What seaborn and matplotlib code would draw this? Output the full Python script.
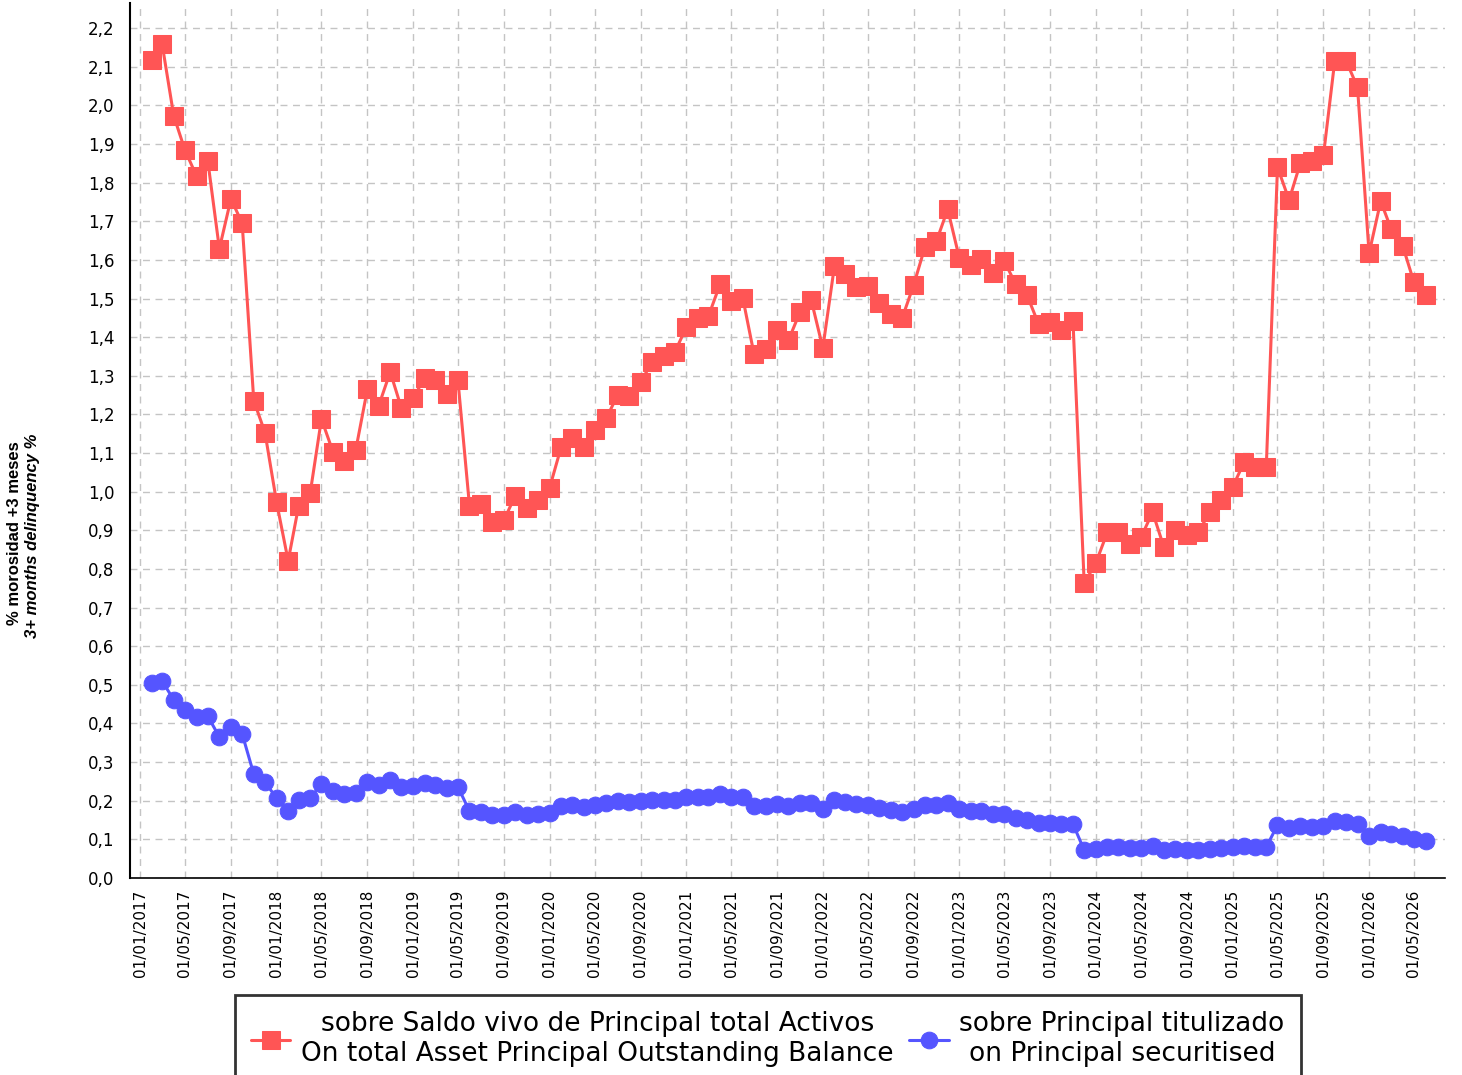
import numpy as np
import pandas as pd
import seaborn as sns
import matplotlib as mpl
mpl.use('Agg')
import matplotlib.pyplot as plt
import matplotlib.dates as mdates
from matplotlib.ticker import FuncFormatter, MultipleLocator

# datos mensuales, de 02/2017 a 06/2026
fechas = pd.date_range('2017-02-01', '2026-06-01', freq='MS')

# % morosidad sobre saldo vivo de principal total activos
saldo_vivo = [
    2.117, 2.158, 1.973, 1.884, 1.817, 1.857, 1.629, 1.758, 1.695, 1.236,
    1.153, 0.973, 0.821, 0.963, 0.997, 1.188, 1.103, 1.080, 1.109, 1.266,
    1.222, 1.310, 1.216, 1.242, 1.294, 1.289, 1.253, 1.289, 0.963, 0.968,
    0.921, 0.926, 0.989, 0.958, 0.978, 1.009, 1.115, 1.139, 1.115, 1.159,
    1.190, 1.250, 1.247, 1.284, 1.335, 1.351, 1.361, 1.426, 1.449, 1.454,
    1.537, 1.493, 1.501, 1.356, 1.369, 1.418, 1.392, 1.465, 1.496, 1.372,
    1.584, 1.563, 1.530, 1.532, 1.488, 1.460, 1.449, 1.535, 1.633, 1.649,
    1.731, 1.605, 1.586, 1.602, 1.566, 1.597, 1.537, 1.509, 1.434, 1.439,
    1.418, 1.442, 0.763, 0.815, 0.895, 0.895, 0.864, 0.882, 0.947, 0.857,
    0.901, 0.888, 0.895, 0.947, 0.978, 1.012, 1.077, 1.064, 1.064, 1.840,
    1.755, 1.850, 1.856, 1.871, 2.114, 2.114, 2.047, 1.617, 1.752, 1.680,
    1.636, 1.542, 1.509,
]

# % morosidad sobre principal titulizado
titulizado = [
    0.505, 0.510, 0.461, 0.435, 0.417, 0.419, 0.365, 0.391, 0.373, 0.269,
    0.248, 0.207, 0.173, 0.202, 0.207, 0.243, 0.225, 0.217, 0.220, 0.248,
    0.241, 0.254, 0.236, 0.238, 0.246, 0.241, 0.233, 0.236, 0.173, 0.171,
    0.163, 0.163, 0.171, 0.163, 0.166, 0.168, 0.186, 0.189, 0.184, 0.189,
    0.194, 0.199, 0.197, 0.199, 0.202, 0.202, 0.202, 0.210, 0.210, 0.210,
    0.217, 0.210, 0.210, 0.186, 0.186, 0.192, 0.186, 0.194, 0.194, 0.179,
    0.202, 0.197, 0.192, 0.189, 0.181, 0.176, 0.171, 0.179, 0.189, 0.189,
    0.194, 0.179, 0.173, 0.173, 0.166, 0.166, 0.155, 0.150, 0.142, 0.142,
    0.140, 0.140, 0.072, 0.075, 0.080, 0.080, 0.078, 0.078, 0.083, 0.072,
    0.075, 0.072, 0.072, 0.075, 0.078, 0.080, 0.083, 0.080, 0.080, 0.137,
    0.129, 0.135, 0.132, 0.135, 0.148, 0.145, 0.140, 0.109, 0.119, 0.114,
    0.109, 0.101, 0.096,
]

etiqueta_saldo = 'sobre Saldo vivo de Principal total Activos\nOn total Asset Principal Outstanding Balance'
etiqueta_tit = 'sobre Principal titulizado\non Principal securitised'

df = pd.DataFrame({'fecha': fechas, 'saldo': saldo_vivo, 'tit': titulizado})

sns.set_style('white')
plt.rcParams['font.family'] = ['DejaVu Sans']
plt.rcParams['text.color'] = 'black'

fig = plt.figure(figsize=(14.62, 10.75), dpi=100)
ax = fig.add_axes([130 / 1462, 1 - 878 / 1075, (1445 - 130) / 1462, (878 - 3) / 1075])

rojo = '#ff5555'
azul = '#5555ff'
sns.lineplot(data=df, x='fecha', y='saldo', ax=ax, color=rojo, marker='s',
             markersize=13.5, markeredgecolor=rojo, linewidth=2.2, label=etiqueta_saldo)
sns.lineplot(data=df, x='fecha', y='tit', ax=ax, color=azul, marker='o',
             markersize=12, markeredgecolor=azul, linewidth=2.2, label=etiqueta_tit)

handles, labels = ax.get_legend_handles_labels()
if ax.get_legend() is not None:
    ax.get_legend().remove()

# ejes
ax.set_ylim(0, 2.265)
ax.set_xlim(pd.Timestamp('2016-12-05'), pd.Timestamp('2026-07-23'))
ax.yaxis.set_major_locator(MultipleLocator(0.1))
ax.yaxis.set_major_formatter(FuncFormatter(lambda v, p: f'{v:.1f}'.replace('.', ',')))
ticks_x = pd.date_range('2017-01-01', '2026-05-01', freq='4MS')
ax.set_xticks(ticks_x)
ax.xaxis.set_major_formatter(mdates.DateFormatter('%d/%m/%Y'))
ax.tick_params(axis='x', labelrotation=90, labelsize=11, length=5, width=1, direction='out',
               color='black', labelcolor='black')
ax.tick_params(axis='y', labelsize=12, length=6, width=1, direction='out', color='black',
               labelcolor='black', pad=5)
ax.set_xlabel('')
ax.set_ylabel('')

ax.grid(True, color='#c4c4c4', linestyle=(0, (5, 4)), linewidth=1)
ax.set_axisbelow(True)
for s in ['top', 'right']:
    ax.spines[s].set_visible(False)
ax.spines['left'].set_color('black')
ax.spines['left'].set_linewidth(1.5)
ax.spines['bottom'].set_color('black')
ax.spines['bottom'].set_linewidth(1.2)

# titulo del eje y en dos lineas
fig.text(15 / 1462, 1 - 533 / 1075, '% morosidad +3 meses', rotation=90, ha='center', va='center',
         fontsize=12, fontweight='bold', family=['Liberation Sans', 'DejaVu Sans'])
fig.text(33 / 1462, 1 - 536 / 1075, '3+ months delinquency %', rotation=90, ha='center', va='center',
         fontsize=12, fontweight='bold', fontstyle='italic', family=['Liberation Sans', 'DejaVu Sans'])

# leyenda abajo, la caja sigue por debajo del borde de la figura
leg = fig.legend(handles, labels, loc='upper left', bbox_to_anchor=(235 / 1462, 1 - 995 / 1075),
                 ncol=2, fontsize=19, frameon=True, fancybox=False, edgecolor='black',
                 handlelength=1.5, handletextpad=0.4, columnspacing=0.6, borderpad=0.6,
                 borderaxespad=0)
leg.get_frame().set_linewidth(2)
for t in leg.get_texts():
    t.set_multialignment('center')
    t.set_color('black')

plt.savefig('out.png', dpi=100)
